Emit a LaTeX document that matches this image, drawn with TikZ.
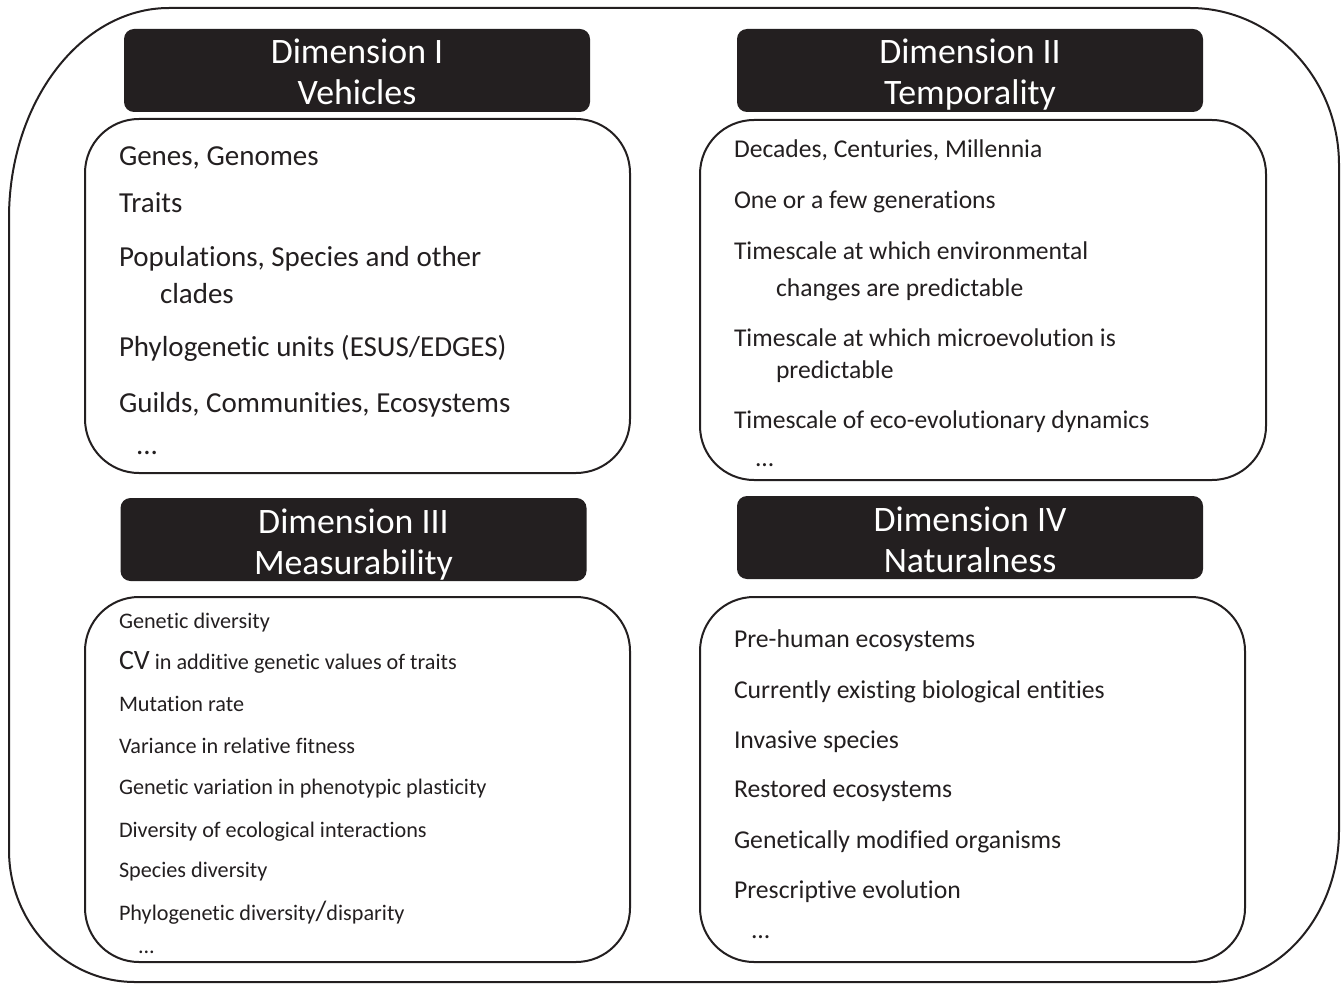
\documentclass[tikz,border=0pt]{standalone}
\usepackage{fontspec}
\setmainfont{Carlito}[Ligatures=NoCommon]
\definecolor{ink}{RGB}{35,31,32}

\begin{document}
\begin{tikzpicture}[x=0.5pt, y=-0.5pt, line width=1pt, color=ink,
  head/.style = {fill=ink, text=white, rounded corners=5pt, minimum width=233pt, inner sep=0pt, align=center, anchor=north, font=\fontsize{17.9}{20.5}\selectfont},
  box/.style = {draw, rounded corners=27pt, inner sep=0pt, minimum width=272.5pt, minimum height=182.5pt},
  vitem/.style = {anchor=base west, inner sep=0pt, font=\fontsize{14.5}{17}\selectfont},
  titem/.style = {anchor=base west, inner sep=0pt, font=\fontsize{12.8}{15}\selectfont},
  mitem/.style = {anchor=base west, inner sep=0pt, font=\fontsize{11.1}{13}\selectfont},
  nitem/.style = {anchor=base west, inner sep=0pt, font=\fontsize{12.85}{15}\selectfont}]
\useasboundingbox (0,0) rectangle (1342,984);
% outer frame
\draw (9,218) .. controls (9,102) and (81,8) .. (169,8) -- (1190,8) .. controls (1272,8) and (1339,78) .. (1339,165) -- (1339,830) .. controls (1339,914) and (1281,982) .. (1210,982) -- (135,982) .. controls (65,982) and (9,923) .. (9,850) -- cycle;
% headers
\node[head] (h1) at (357,28) {\rule{0pt}{17.5pt}Dimension I\\Vehicles\rule[-3.5pt]{0pt}{0pt}};
\node[head] (h2) at (970,28) {\rule{0pt}{17.5pt}Dimension II\\Temporality\rule[-3.5pt]{0pt}{0pt}};
\node[head] (h3) at (353.5,497) {\rule{0pt}{17.5pt}Dimension III\\Measurability\rule[-3.5pt]{0pt}{0pt}};
\node[head] (h4) at (970,495) {\rule{0pt}{17.5pt}Dimension IV\\Naturalness\rule[-3.5pt]{0pt}{0pt}};
% boxes
\node[box, minimum height=177pt] (b1) at (357.5,296) {};
\node[box, minimum width=283pt, minimum height=180pt] (b2) at (983,300) {};
\node[box] (b3) at (357.5,779.5) {};
\node[box] (b4) at (972.5,779.5) {};
% Dimension I
\node[vitem] (v1) at (118,166) {Genes, Genomes};
\node[vitem] (v2) at (118,213) {Traits};
\node[vitem] (v3) at (118,266) {Populations, Species and other};
\node[vitem] (v4) at (159,303) {clades};
\node[vitem] (v5) at (118,356) {Phylogenetic units (ESUS/EDGES)};
\node[vitem] (v6) at (118,412) {Guilds, Communities, Ecosystems};
\node[vitem] (v7) at (135,454) {...};
% Dimension II
\node[titem] (t1) at (733,158) {Decades, Centuries, Millennia};
\node[titem] (t2) at (733,208) {One or a few generations};
\node[titem] (t3) at (733,259) {Timescale at which environmental};
\node[titem] (t4) at (775,296) {changes are predictable};
\node[titem] (t5) at (733,346) {Timescale at which microevolution is};
\node[titem] (t6) at (775,378) {predictable};
\node[titem] (t7) at (733,428) {Timescale of eco-evolutionary dynamics};
\node[titem] (t8) at (754,466) {...};
% Dimension III
\node[mitem] (m1) at (118,628) {Genetic diversity};
\node[mitem] (m2) at (118,669) {{\fontsize{14}{14}\selectfont CV} in additive genetic values of traits};
\node[mitem] (m3) at (118,711) {Mutation rate};
\node[mitem] (m4) at (118,753) {Variance in relative fitness};
\node[mitem] (m5) at (118,794) {Genetic variation in phenotypic plasticity};
\node[mitem] (m6) at (118,837) {Diversity of ecological interactions};
\node[mitem] (m7) at (118,877) {Species diversity};
\node[mitem] (m8) at (118,920) {Phylogenetic diversity{\fontsize{14}{14}\selectfont /}disparity};
\node[mitem] (m9) at (137,953) {...};
% Dimension IV
\node[nitem] (n1) at (733,647) {Pre-human ecosystems};
\node[nitem] (n2) at (733,698) {Currently existing biological entities};
\node[nitem] (n3) at (733,748) {Invasive species};
\node[nitem] (n4) at (733,797) {Restored ecosystems};
\node[nitem] (n5) at (733,848) {Genetically modified organisms};
\node[nitem] (n6) at (733,898) {Prescriptive evolution};
\node[nitem] (n7) at (750,938) {...};
\end{tikzpicture}
\end{document}
